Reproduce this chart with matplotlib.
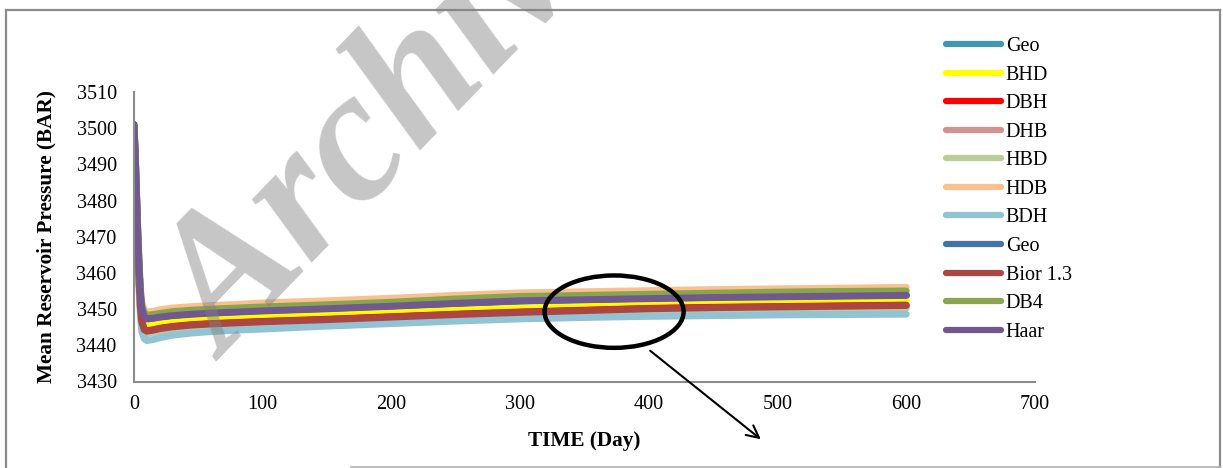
import numpy as np
import matplotlib
matplotlib.use("Agg")
import matplotlib.pyplot as plt
from matplotlib.patches import Ellipse
from matplotlib.lines import Line2D

plt.rcParams['font.family'] = ['Liberation Serif', 'DejaVu Serif']

# time axis (days)
days = [0, 1, 2, 3, 4, 5, 6, 8, 10, 15, 20, 30, 45, 60, 80, 100,
        150, 200, 250, 300, 350, 400, 450, 500, 550, 600]

geo1 = [3501.0, 3491.8, 3480.8, 3469.8, 3460.8, 3453.8, 3450.0, 3447.7, 3447.2, 3447.4, 3447.7, 3448.1, 3448.5,
        3448.8, 3449.1, 3449.4, 3450.0, 3450.7, 3451.5, 3452.2, 3452.5, 3452.8, 3453.1, 3453.3, 3453.5, 3453.7]
bhd = [3500.0, 3490.5, 3479.0, 3468.0, 3459.0, 3452.0, 3448.0, 3445.7, 3445.3, 3445.5, 3445.9, 3446.4, 3446.9,
       3447.2, 3447.5, 3447.8, 3448.4, 3449.0, 3449.6, 3450.2, 3450.7, 3451.2, 3451.6, 3451.9, 3452.1, 3452.2]
dbh = [3500.0, 3490.1, 3478.1, 3467.1, 3457.6, 3450.6, 3446.6, 3444.4, 3444.0, 3444.3, 3444.7, 3445.2, 3445.7,
       3446.0, 3446.3, 3446.6, 3447.2, 3447.9, 3448.6, 3449.2, 3449.7, 3450.2, 3450.5, 3450.7, 3450.9, 3451.1]
dhb = [3500.0, 3489.8, 3477.8, 3466.8, 3457.3, 3450.3, 3446.3, 3444.1, 3443.7, 3444.0, 3444.4, 3444.9, 3445.4,
       3445.7, 3446.0, 3446.3, 3446.9, 3447.6, 3448.3, 3448.9, 3449.4, 3449.9, 3450.2, 3450.4, 3450.6, 3450.8]
hbd = [3500.0, 3489.5, 3477.3, 3466.3, 3456.8, 3449.8, 3445.8, 3443.6, 3443.2, 3443.5, 3443.9, 3444.4, 3444.9,
       3445.2, 3445.5, 3445.8, 3446.4, 3447.1, 3447.8, 3448.4, 3448.9, 3449.4, 3449.7, 3449.9, 3450.1, 3450.3]
hdb = [3500.5, 3492.5, 3482.0, 3471.5, 3463.0, 3456.0, 3452.0, 3449.7, 3449.2, 3449.4, 3449.8, 3450.3, 3450.7,
       3451.0, 3451.3, 3451.7, 3452.3, 3453.0, 3453.8, 3454.5, 3454.8, 3455.1, 3455.4, 3455.6, 3455.8, 3456.0]
bdh = [3500.0, 3489.0, 3476.0, 3464.5, 3455.0, 3448.0, 3443.8, 3441.8, 3441.3, 3441.6, 3442.1, 3442.8, 3443.4,
       3443.8, 3444.2, 3444.5, 3445.3, 3446.0, 3446.7, 3447.3, 3447.7, 3448.0, 3448.2, 3448.4, 3448.5, 3448.6]
geo2 = [3501.0, 3492.0, 3481.0, 3470.0, 3461.0, 3454.0, 3450.2, 3447.8, 3447.4, 3447.6, 3447.9, 3448.3, 3448.7,
        3449.0, 3449.3, 3449.6, 3450.2, 3450.9, 3451.7, 3452.4, 3452.7, 3453.0, 3453.3, 3453.5, 3453.7, 3453.9]
bior13 = [3500.0, 3490.0, 3478.0, 3467.0, 3457.5, 3450.5, 3446.5, 3444.3, 3443.9, 3444.2, 3444.6, 3445.1, 3445.6,
          3445.9, 3446.2, 3446.5, 3447.1, 3447.8, 3448.5, 3449.1, 3449.6, 3450.1, 3450.4, 3450.6, 3450.8, 3451.0]
db4 = [3500.8, 3492.2, 3481.5, 3470.8, 3462.0, 3455.0, 3451.1, 3448.8, 3448.3, 3448.5, 3448.8, 3449.3, 3449.7,
       3450.0, 3450.3, 3450.6, 3451.2, 3451.9, 3452.8, 3453.5, 3453.8, 3454.1, 3454.4, 3454.7, 3454.9, 3455.0]
haar = [3501.0, 3492.0, 3481.0, 3470.0, 3461.0, 3454.0, 3450.2, 3447.8, 3447.3, 3447.5, 3447.8, 3448.2, 3448.6,
        3448.9, 3449.2, 3449.5, 3450.1, 3450.8, 3451.6, 3452.3, 3452.6, 3452.9, 3453.2, 3453.4, 3453.6, 3453.8]

labels = ["Geo", "BHD", "DBH", "DHB", "HBD", "HDB", "BDH", "Geo", "Bior 1.3", "DB4", "Haar"]
series = [geo1, bhd, dbh, dhb, hbd, hdb, bdh, geo2, bior13, db4, haar]
colors = ["#4198AF", "#FFFF00", "#FF0000", "#D19392", "#B9CD96", "#FAC090",
          "#91C3D5", "#4572A7", "#AA4643", "#89A54E", "#71588F"]

fig = plt.figure(figsize=(12.23, 4.68), dpi=100)
W, H = 1223.0, 468.0
ax = fig.add_axes([134/W, 1-381.5/H, (1035-134)/W, (381.5-92)/H])

for lab, vals, c in zip(labels, series, colors):
    ax.plot(days, vals, color=c, lw=5, label=lab, solid_capstyle='round', solid_joinstyle='round')

ax.set_xlim(0, 700)
ax.set_ylim(3430, 3510)
ax.set_xticks(np.arange(0, 701, 100))
ax.set_yticks(np.arange(3430, 3511, 10))
ax.tick_params(axis='y', length=0, labelsize=14.5, pad=12.5)
ax.tick_params(axis='x', length=0, labelsize=14.5, pad=10)
for s in ["top", "right"]:
    ax.spines[s].set_visible(False)
for s in ["left", "bottom"]:
    ax.spines[s].set_color("#8c8c8c")
    ax.spines[s].set_linewidth(1.5)

ax.set_xlabel("TIME (Day)", fontsize=15.3, fontweight="bold", labelpad=12)
ax.set_ylabel("Mean Reservoir Pressure (BAR)", fontsize=15.3, fontweight="bold", labelpad=14)

leg = ax.legend(loc="upper left", bbox_to_anchor=(946/W, 1-37/H), bbox_transform=fig.transFigure,
                frameon=False, fontsize=14.5, handlelength=2.75, handletextpad=0.22,
                labelspacing=0.47, borderpad=0, borderaxespad=0)
for h in leg.get_lines():
    h.set_linewidth(4.5)
    h.set_solid_capstyle('round')

# highlighted region + arrow
ell = Ellipse((373, 3449.3), 108, 20, fill=False, edgecolor="black", lw=3.2, zorder=5)
ax.add_patch(ell)
ax.annotate("", xy=(763, H-441), xytext=(648, H-349), xycoords="figure pixels", textcoords="figure pixels",
            arrowprops=dict(arrowstyle="->", color="black", lw=1.5, mutation_scale=22))

# outer frame
fc = "#8c8c8c"
fig.add_artist(Line2D([6/W, 1220/W], [1-9.5/H, 1-9.5/H], transform=fig.transFigure, color=fc, lw=1.6))
fig.add_artist(Line2D([6/W, 6/W], [0, 1-9.5/H], transform=fig.transFigure, color=fc, lw=1.6))
fig.add_artist(Line2D([1220/W, 1220/W], [0, 1-9.5/H], transform=fig.transFigure, color=fc, lw=1.6))
fig.add_artist(Line2D([351/W, 1220/W], [1-466.5/H, 1-466.5/H], transform=fig.transFigure, color="#b0b0b0", lw=1.2))

# watermark
fig.text(226/W, 1-362/H, "Archive", fontsize=135, fontweight="bold", fontstyle="italic",
         color=(0.5, 0.5, 0.5), alpha=0.45, rotation=46, rotation_mode="anchor",
         ha="left", va="baseline", zorder=10)

fig.savefig("out.png", dpi=100)
